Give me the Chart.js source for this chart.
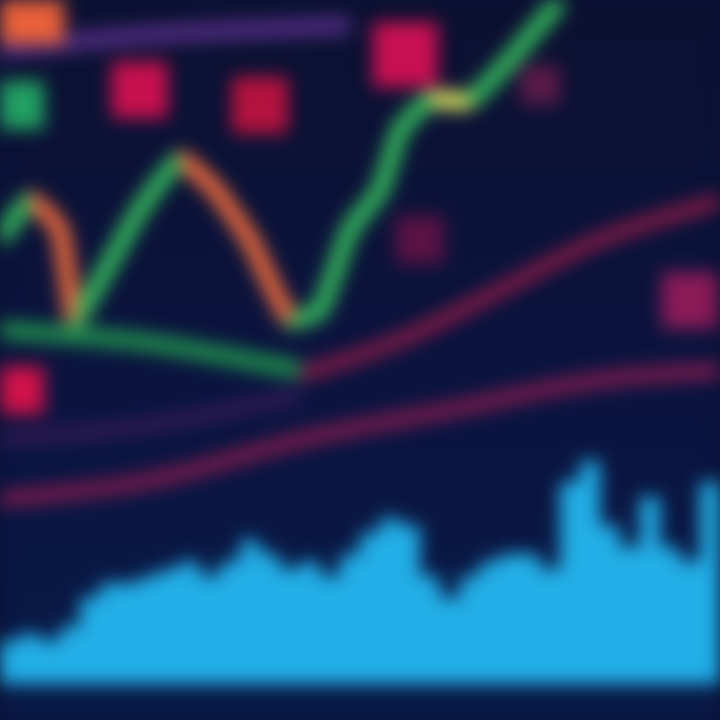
<!DOCTYPE html>
<html><head><meta charset="utf-8">
<script src="https://cdn.jsdelivr.net/npm/chart.js@4.4.1/dist/chart.umd.min.js"></script>
<style>
html,body{margin:0;padding:0;background:#0a1236;overflow:hidden}
#wrap{width:720px;height:720px;position:relative}
canvas{filter:blur(9px)}
</style></head><body>
<div id="wrap"><canvas id="c"></canvas></div>
<script>
// price line (x: time 0-100, y: value 0-100)
const priceX = [0,4.2,8.3,10.4,13.9,19.4,25,29.9,34.7,40.3,44.4,48.6,52.8,55.6,59.7,65.3,70.8,77.8];
const priceY = [66.7,72.2,68.1,55.6,61.1,70.8,77.8,73.6,66.7,55.6,56.9,68.1,73.6,81.9,86.1,86.1,91.7,100];
// support line
const supportX = [0,20,41.7];
const supportY = [54.2,52.5,48.6];
// moving averages
const maAX = [41.7,55.6,69.4,83.3,100];
const maAY = [47.9,52.8,59.7,66.7,72.2];
const maBX = [0,20.8,41.7,62.5,83.3,100];
const maBY = [30.6,33.3,38.9,43.1,47.2,48.6];
const maCX = [0,20.8,41.7];
const maCY = [38.9,41.0,45.1];
const topBandX = [0,20,48.6];
const topBandY = [93.1,95.1,96.5];
// markers
const boxX = [19.4,36.1,56.3,2.8,95.8,58.3,75,2.8,4.2];
const boxY = [87.5,85.4,92.4,45.8,58.3,66.7,88.2,85.4,98.6];
// volume bars
const volLabels = ["1","2","3","4","5","6","7","8","9","10","11","12","13","14","15","16","17","18","19","20","21","22","23","24","25","26","27","28","29","30","31","32","33","34","35","36"];
const volTop = [11,12,11,13,17,19,19,20,21,22,20,22,25,23,21,22,20,23,26,28,27,20,17,20,22,23,23,21,33,36,27,24,31,24,22,33];

const toPts = (xs, ys) => xs.map((x,i)=>({x, y: ys[i]}));
const boxColors = ['#c8104e','#b4123f','#c81052','#d0124a','#8a1a58','#5a1244','#5a1a48','#22a062','#e8603a'];
const boxSizes = [40,40,46,34,40,34,28,34,48];

const bgPlugin = {
  id:'bg',
  beforeDraw(ch){
    const c = ch.ctx, w = ch.width, h = ch.height;
    const g = c.createLinearGradient(0,0,0,h);
    g.addColorStop(0,'#0b1030');
    g.addColorStop(0.6,'#0a1440');
    g.addColorStop(1,'#081a48');
    c.save(); c.fillStyle = g; c.fillRect(0,0,w,h); c.restore();
  }
};

new Chart(document.getElementById('c'), {
  type:'scatter',
  data:{
    labels: volLabels,
    datasets:[
      {type:'bar', xAxisID:'xb', data: volTop.map(v=>[5,v]), backgroundColor:'#22aee6', borderColor:'#22aee6', borderWidth:2, barPercentage:1, categoryPercentage:1, grouped:false, order:10},
      {type:'line', data: toPts(topBandX, topBandY), borderColor:'#4a2a7a', borderWidth:20, pointRadius:0, tension:0.4, order:9, clip:false},
      {type:'line', data: toPts(maCX, maCY), borderColor:'#3a1a5a', borderWidth:12, pointRadius:0, tension:0.4, order:8, clip:false},
      {type:'line', data: toPts(maBX, maBY), borderColor:'#7a1a4c', borderWidth:16, pointRadius:0, tension:0.4, order:7, clip:false},
      {type:'line', data: toPts(maAX, maAY), borderColor:'#8c1a48', borderWidth:14, pointRadius:0, tension:0.4, order:6, clip:false},
      {type:'line', data: toPts(supportX, supportY), borderColor:'#1f8a4e', borderWidth:18, pointRadius:0, tension:0.3, order:5, clip:false},
      {type:'scatter', data: toPts(boxX, boxY), pointStyle:'rect', pointRadius: boxSizes, backgroundColor: boxColors, borderWidth:0, order:4, clip:false},
      {type:'line', data: toPts(priceX, priceY), borderWidth:18, pointRadius:0, tension:0.15, order:1, clip:false,
        segment:{borderColor: s => {
          const a = s.p0.parsed.y, b = s.p1.parsed.y;
          if (Math.abs(a-b) < 2 && a > 80) return '#d8e060';
          return b > a ? '#34b85c' : '#ec6a3c';
        }}}
    ]
  },
  options:{
    responsive:true, maintainAspectRatio:false, animation:false,
    layout:{padding:0, autoPadding:false},
    plugins:{legend:{display:false}, tooltip:{enabled:false}},
    scales:{
      x:{type:'linear', min:0, max:100, display:false},
      xb:{type:'category', display:false, offset:true},
      y:{min:0, max:100, display:false}
    }
  },
  plugins:[bgPlugin]
});
</script>
</body></html>
